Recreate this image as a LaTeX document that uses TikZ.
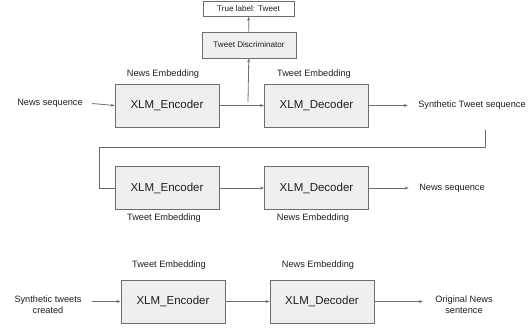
\documentclass[tikz,border=0pt]{standalone}
\usepackage{fontspec}
\setmainfont{Liberation Sans}
\usetikzlibrary{arrows.meta}
\definecolor{boxgray}{RGB}{239,239,239}
\definecolor{linegray}{RGB}{110,110,110}
\definecolor{textgray}{RGB}{30,30,30}

\begin{document}
\begin{tikzpicture}[x=1pt,y=-1pt,
    block/.style={draw=linegray,fill=boxgray,line width=0.9pt,minimum width=104pt,minimum height=43pt,
      text=textgray,font=\fontsize{11.5}{13}\selectfont},
    smallblock/.style={draw=linegray,line width=0.9pt,text=textgray,font=\fontsize{8.1}{10}\selectfont},
    lbl/.style={text=textgray,font=\fontsize{9.2}{11}\selectfont,align=center},
    arr/.style={-{Stealth[length=4pt,width=3pt]},draw=linegray,line width=0.8pt},
    wire/.style={draw=linegray,line width=0.8pt}]
  \useasboundingbox (0,0) rectangle (531,328);
  % Discriminator
  \node[smallblock,fill=white,minimum width=91pt,minimum height=15pt] (truelabel) at (248.5,8.8) {True label: Tweet};
  \node[smallblock,fill=boxgray,minimum width=94pt,minimum height=26pt] (disc) at (249,45) {Tweet Discriminator};
  % First row
  \node[block] (enc1) at (167,105.5) {XLM\_Encoder};
  \node[block] (dec1) at (316.5,105.5) {XLM\_Decoder};
  \node[lbl] (newsin) at (50,103) {News sequence};
  \node[lbl] (synout) at (472,105) {Synthetic Tweet sequence};
  \node[lbl] at (163,74) {News Embedding};
  \node[lbl] at (314,74) {Tweet Embedding};
  \coordinate (split) at (248,102);
  \coordinate (loopstart) at (485,130);
  % Second row
  \node[block] (enc2) at (167,188) {XLM\_Encoder};
  \node[block] (dec2) at (316.5,188) {XLM\_Decoder};
  \node[lbl] (newsout) at (452,188) {News sequence};
  \node[lbl] at (164,218) {Tweet Embedding};
  \node[lbl] at (313,218) {News Embedding};
  % Third row
  \node[block] (enc3) at (173,301.5) {XLM\_Encoder};
  \node[block] (dec3) at (322,301.5) {XLM\_Decoder};
  \node[lbl] (synin) at (48,305) {Synthetic tweets\\created};
  \node[lbl] (orig) at (464,305) {Original News\\sentence};
  \node[lbl] at (169,265) {Tweet Embedding};
  \node[lbl] at (318,265) {News Embedding};
  % Arrows
  \draw[arr] (disc) -- (truelabel);
  \draw[arr] (split) -- (disc);
  \draw[arr,shorten <=6pt] (newsin.east) -- (enc1.west);
  \draw[arr] (enc1) -- (dec1);
  \draw[arr,shorten >=7pt] (dec1.east) -- (synout.west |- dec1.east);
  \draw[wire] (loopstart) |- (99,147) |- (enc2.west);
  \draw[arr] (enc2) -- (dec2);
  \draw[arr,shorten >=7pt] (dec2.east) -- (newsout.west |- dec2.east);
  \draw[arr,shorten <=7pt] (synin.east |- enc3.west) -- (enc3.west);
  \draw[arr] (enc3) -- (dec3);
  \draw[arr,shorten >=9pt] (dec3.east) -- (orig.west |- dec3.east);
\end{tikzpicture}
\end{document}
